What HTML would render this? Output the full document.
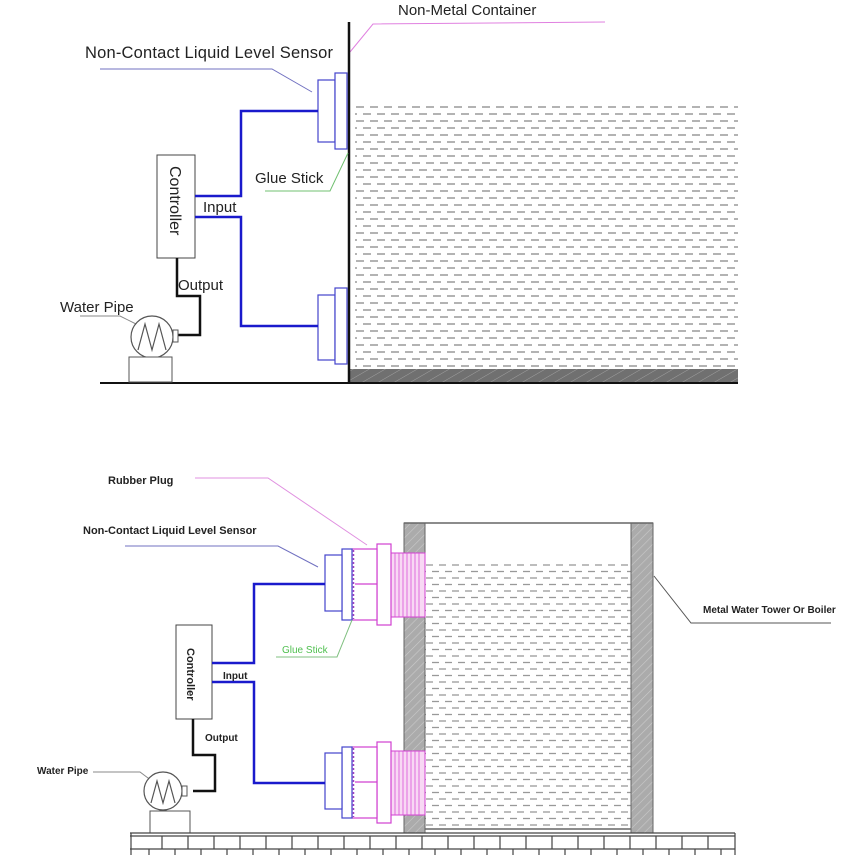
<!DOCTYPE html>
<html><head><meta charset="utf-8"><style>
html,body{margin:0;padding:0;background:#fff}
svg{display:block}
text{font-family:"Liberation Sans",sans-serif}
</style></head><body>
<svg width="864" height="855" viewBox="0 0 864 855" xmlns="http://www.w3.org/2000/svg">
<defs>
<pattern id="liq" x="355" y="105" width="14" height="14" patternUnits="userSpaceOnUse">
<line x1="1" y1="2" x2="9" y2="2" stroke="#8a8a8a" stroke-width="1.3"/>
<line x1="8" y1="9" x2="16" y2="9" stroke="#8a8a8a" stroke-width="1.3"/>
<line x1="-6" y1="9" x2="2" y2="9" stroke="#8a8a8a" stroke-width="1.3"/>
</pattern>
<pattern id="liq2" x="425" y="563" width="13" height="13" patternUnits="userSpaceOnUse">
<line x1="1" y1="2" x2="8" y2="2" stroke="#999" stroke-width="1.3"/>
<line x1="7" y1="8.5" x2="14" y2="8.5" stroke="#999" stroke-width="1.3"/>
<line x1="-6" y1="8.5" x2="1" y2="8.5" stroke="#999" stroke-width="1.3"/>
</pattern>
<pattern id="hatch" width="6" height="6" patternUnits="userSpaceOnUse" patternTransform="rotate(45)">
<rect width="6" height="6" fill="#ababab"/>
<line x1="0" y1="0" x2="0" y2="6" stroke="#cacaca" stroke-width="1.2"/>
</pattern>
<pattern id="hatchd" width="8" height="8" patternUnits="userSpaceOnUse" patternTransform="rotate(60)">
<rect width="8" height="8" fill="#707070"/>
<line x1="0" y1="0" x2="0" y2="8" stroke="#a0a0a0" stroke-width="1"/>
</pattern>
</defs>

<!-- ===== TOP DIAGRAM ===== -->
<text x="398" y="15" font-size="15" fill="#222">Non-Metal Container</text>
<polyline points="350,52 373,24 605,22" fill="none" stroke="#e080e0" stroke-width="1"/>
<text x="85" y="58" font-size="16.5" fill="#222" textLength="248">Non-Contact Liquid Level Sensor</text>
<polyline points="100,69 272,69 312,92" fill="none" stroke="#7070c0" stroke-width="1"/>

<rect x="355" y="103" width="383" height="266" fill="url(#liq)"/>
<rect x="350" y="369" width="388" height="13" fill="url(#hatchd)"/>
<line x1="349" y1="22" x2="349" y2="383" stroke="#111" stroke-width="2.5"/>
<line x1="100" y1="383" x2="738" y2="383" stroke="#111" stroke-width="2"/>

<g fill="#fff" stroke="#4444cc" stroke-width="1.2">
<rect x="318" y="80" width="17" height="62"/>
<rect x="335" y="73" width="12" height="76"/>
<rect x="318" y="295" width="17" height="65"/>
<rect x="335" y="288" width="12" height="76"/>
</g>
<text x="255" y="183" font-size="15" fill="#222">Glue Stick</text>
<polyline points="265,191 330,191 348,153" fill="none" stroke="#70c070" stroke-width="1"/>

<rect x="157" y="155" width="38" height="103" fill="#fff" stroke="#444" stroke-width="1"/>
<text transform="translate(170,166) rotate(90)" font-size="16" fill="#222">Controller</text>
<polyline points="195,196 241,196 241,111 318,111" fill="none" stroke="#1a1acc" stroke-width="2.5"/>
<polyline points="195,217 241,217 241,326 318,326" fill="none" stroke="#1a1acc" stroke-width="2.5"/>
<text x="203" y="212" font-size="15" fill="#222">Input</text>
<text x="178" y="290" font-size="15" fill="#222">Output</text>
<polyline points="177,258 177,296 200,296 200,335 174,335" fill="none" stroke="#111" stroke-width="2.5"/>
<text x="60" y="312" font-size="15" fill="#222">Water Pipe</text>
<polyline points="80,316 120,316 138,325" fill="none" stroke="#888" stroke-width="1"/>
<circle cx="152" cy="337" r="21" fill="#fff" stroke="#555" stroke-width="1.2"/>
<rect x="173" y="330" width="5" height="12" fill="#fff" stroke="#555"/>
<polyline points="138,350 145,324 152,350 159,324 166,350" fill="none" stroke="#555" stroke-width="1.2"/>
<rect x="129" y="357" width="43" height="25" fill="#fff" stroke="#555" stroke-width="1"/>

<!-- ===== BOTTOM DIAGRAM ===== -->
<text x="108" y="484" font-size="11" font-weight="bold" fill="#222">Rubber Plug</text>
<polyline points="195,478 268,478 367,545" fill="none" stroke="#e090e0" stroke-width="1"/>
<text x="83" y="534" font-size="11" font-weight="bold" fill="#222">Non-Contact Liquid Level Sensor</text>
<polyline points="125,546 278,546 318,567" fill="none" stroke="#7070c0" stroke-width="1"/>

<rect x="425" y="563" width="206" height="265" fill="url(#liq2)"/>
<rect x="404" y="523" width="21" height="310" fill="url(#hatch)" stroke="#666" stroke-width="1"/>
<rect x="631" y="523" width="22" height="310" fill="url(#hatch)" stroke="#666" stroke-width="1"/>
<line x1="404" y1="523" x2="653" y2="523" stroke="#666" stroke-width="1.5"/>
<line x1="425" y1="829" x2="631" y2="829" stroke="#666" stroke-width="1.5"/>

<text x="703" y="613" font-size="10" font-weight="bold" fill="#222">Metal Water Tower Or Boiler</text>
<polyline points="654,576 691,623 831,623" fill="none" stroke="#555" stroke-width="1"/>

<g id="s1">
<rect x="391" y="553" width="34" height="64" fill="#f8d8f4" stroke="#d040d0" stroke-width="1"/>
<g stroke="#d850d8" stroke-width="0.8">
<line x1="395" y1="553" x2="395" y2="617"/><line x1="399" y1="553" x2="399" y2="617"/><line x1="403" y1="553" x2="403" y2="617"/><line x1="407" y1="553" x2="407" y2="617"/><line x1="411" y1="553" x2="411" y2="617"/><line x1="415" y1="553" x2="415" y2="617"/><line x1="419" y1="553" x2="419" y2="617"/>
</g>
<rect x="377" y="544" width="14" height="81" fill="#fff" stroke="#d040d0" stroke-width="1.2"/>
<rect x="352" y="549" width="25" height="71" fill="#fff" stroke="#d040d0" stroke-width="1.2"/>
<line x1="355" y1="584" x2="377" y2="584" stroke="#d040d0" stroke-width="1.2"/>
<line x1="353.5" y1="550" x2="353.5" y2="619" stroke="#a040c0" stroke-width="1.5" stroke-dasharray="2,2"/>
<rect x="342" y="549" width="10" height="71" fill="#fff" stroke="#4444cc" stroke-width="1.2"/>
<rect x="325" y="555" width="17" height="56" fill="#fff" stroke="#4444cc" stroke-width="1.2"/>
</g>
<use href="#s1" transform="translate(0,198)"/>

<text x="282" y="653" font-size="10" fill="#50c050">Glue Stick</text>
<polyline points="276,657 337,657 352,620" fill="none" stroke="#80c080" stroke-width="1"/>

<rect x="176" y="625" width="36" height="94" fill="#fff" stroke="#444" stroke-width="1"/>
<text transform="translate(187,648) rotate(90)" font-size="11" font-weight="bold" fill="#222">Controller</text>
<polyline points="212,663 254,663 254,584 325,584" fill="none" stroke="#1a1acc" stroke-width="2.5"/>
<polyline points="212,682 254,682 254,783 325,783" fill="none" stroke="#1a1acc" stroke-width="2.5"/>
<text x="223" y="679" font-size="10" font-weight="bold" fill="#222">Input</text>
<text x="205" y="741" font-size="10" font-weight="bold" fill="#222">Output</text>
<polyline points="193,719 193,755 215,755 215,791 193,791" fill="none" stroke="#111" stroke-width="2.5"/>
<text x="37" y="774" font-size="10" font-weight="bold" fill="#222">Water Pipe</text>
<polyline points="93,772 140,772 152,781" fill="none" stroke="#888" stroke-width="1"/>
<circle cx="163" cy="791" r="19" fill="#fff" stroke="#555" stroke-width="1.2"/>
<rect x="182" y="786" width="5" height="10" fill="#fff" stroke="#555"/>
<polyline points="151,803 157,781 163,803 169,781 175,803" fill="none" stroke="#555" stroke-width="1.2"/>
<rect x="150" y="811" width="40" height="22" fill="#fff" stroke="#555" stroke-width="1"/>

<g stroke="#444" stroke-width="1.2" fill="none">
<line x1="130" y1="833" x2="735" y2="833"/>
<line x1="130" y1="836" x2="735" y2="836"/>
<line x1="130" y1="849" x2="735" y2="849"/>
<line x1="131" y1="833" x2="131" y2="855"/>
<line x1="735" y1="833" x2="735" y2="855"/>
<path d="M162 836V849M188 836V849M214 836V849M240 836V849M266 836V849M292 836V849M318 836V849M344 836V849M370 836V849M396 836V849M422 836V849M448 836V849M474 836V849M500 836V849M526 836V849M552 836V849M578 836V849M604 836V849M630 836V849M656 836V849M682 836V849M708 836V849"/>
<path d="M149 849V855M175 849V855M201 849V855M227 849V855M253 849V855M279 849V855M305 849V855M331 849V855M357 849V855M383 849V855M409 849V855M435 849V855M461 849V855M487 849V855M513 849V855M539 849V855M565 849V855M591 849V855M617 849V855M643 849V855M669 849V855M695 849V855M721 849V855"/>
</g>
</svg>
</body></html>
